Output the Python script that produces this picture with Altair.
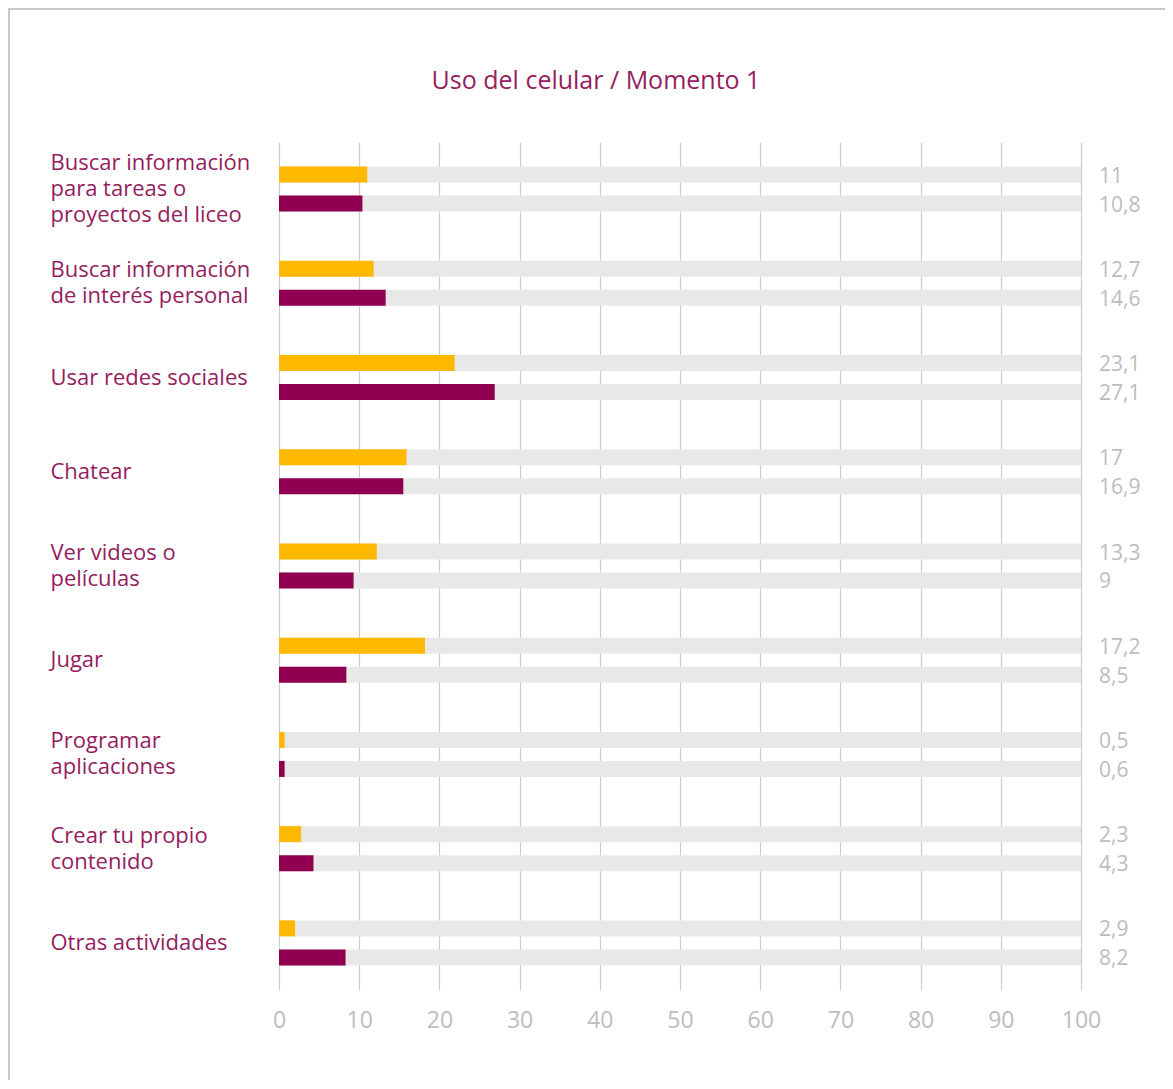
import altair as alt
import pandas as pd

TITLE = "Uso del celular / Momento 1"
categories = [
    "Buscar información|para tareas o|proyectos del liceo",
    "Buscar información|de interés personal",
    "Usar redes sociales",
    "Chatear",
    "Ver videos o|películas",
    "Jugar",
    "Programar|aplicaciones",
    "Crear tu propio|contenido",
    "Otras actividades",
]
series = ["Serie A", "Serie B"]
# bar lengths as drawn (read against the gridlines)
bar_a = [11.0, 11.8, 21.9, 15.9, 12.2, 18.2, 0.7, 2.75, 2.0]
bar_b = [10.4, 13.3, 26.9, 15.5, 9.3, 8.4, 0.7, 4.3, 8.3]
# value labels as printed
label_a = ["11", "12,7", "23,1", "17", "13,3", "17,2", "0,5", "2,3", "2,9"]
label_b = ["10,8", "14,6", "27,1", "16,9", "9", "8,5", "0,6", "4,3", "8,2"]
x_ticks = [0, 10, 20, 30, 40, 50, 60, 70, 80, 90, 100]

YELLOW = "#FFB800"
PURPLE = "#910050"
TEXT_PURPLE = "#951D5E"
GREY_TXT = "#BDBDBD"
FONT = "Open Sans"
LH = 26

rows = []
for i, c in enumerate(categories):
    rows.append({"cat": c, "serie": series[0], "value": bar_a[i], "label": label_a[i], "full": 100})
    rows.append({"cat": c, "serie": series[1], "value": bar_b[i], "label": label_b[i], "full": 100})
df = pd.DataFrame(rows)

W, H = 802, 848

label_offset = {
    "condition": [
        {"test": "length(split(datum.value, '|')) == 3", "value": -LH},
        {"test": "length(split(datum.value, '|')) == 2", "value": -LH / 2},
    ],
    "value": 0,
}

y_enc = alt.Y("cat:N", sort=categories, scale=alt.Scale(paddingInner=0, paddingOuter=0),
              axis=alt.Axis(title=None, ticks=False, tickSize=0, domain=False, labelAlign="left",
                            labelPadding=229, labelFontSize=22, labelColor=TEXT_PURPLE,
                            labelFont=FONT, labelLineHeight=LH, labelBaseline="middle",
                            labelOffset=label_offset,
                            labelLimit=320, labelExpr="split(datum.label, '|')", grid=False))
yoff = alt.YOffset("serie:N", sort=series, scale=alt.Scale(paddingInner=0.448, paddingOuter=0.849))
x_scale = alt.Scale(domain=[0, 100], nice=False)

base = alt.Chart(df)

bg = base.mark_bar(color="#E8E8E8").encode(
    x=alt.X("full:Q", scale=x_scale,
            axis=alt.Axis(title=None, values=x_ticks, grid=True, gridColor="#CCCCCC", gridWidth=1.2,
                          ticks=False, tickSize=0, domain=False, labelFontSize=23, labelColor=GREY_TXT,
                          labelFont=FONT, labelPadding=19, labelFlush=False)),
    y=y_enc, yOffset=yoff,
)

bars = base.mark_bar().encode(
    x=alt.X("value:Q", scale=x_scale),
    y=y_enc, yOffset=yoff,
    color=alt.Color("serie:N", scale=alt.Scale(domain=series, range=[YELLOW, PURPLE]), legend=None),
)

labels = base.mark_text(align="left", baseline="middle", fontSize=21, color=GREY_TXT, font=FONT,
                        dy=2).encode(
    x=alt.value(W + 18),
    y=y_enc, yOffset=yoff,
    text="label:N",
)

title = alt.Chart(pd.DataFrame({"t": [TITLE]})).mark_text(
    align="center", baseline="middle", fontSize=25, color=TEXT_PURPLE, font=FONT
).encode(text="t:N", x=alt.value(317), y=alt.value(-61))

frame_left = alt.Chart(pd.DataFrame({"a": [0]})).mark_rule(color="#C8C8C8", strokeWidth=2).encode(
    x=alt.value(-270), y=alt.value(-133), y2=alt.value(H + 100))
frame_top = alt.Chart(pd.DataFrame({"a": [0]})).mark_rule(color="#C8C8C8", strokeWidth=2).encode(
    x=alt.value(-271), x2=alt.value(W + 100), y=alt.value(-133))

chart = alt.layer(frame_left, frame_top, bg, bars, labels, title).properties(
    width=W, height=H,
    background="white",
    autosize=alt.AutoSizeParams(type="none"),
    padding={"left": 271, "top": 134, "right": 84, "bottom": 90},
).configure_view(strokeWidth=0, stroke="transparent")

chart.save("out.html", embed_options={"renderer": "svg", "actions": False})
